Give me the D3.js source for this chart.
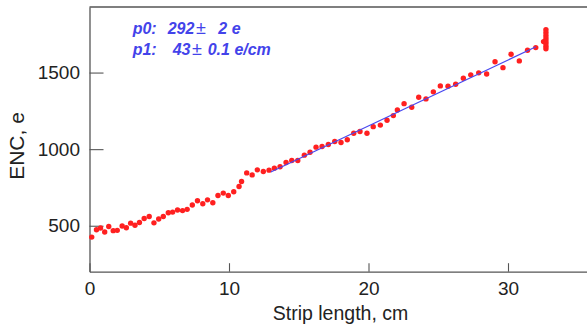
<!DOCTYPE html>
<html>
<head>
<meta charset="utf-8">
<script src="https://cdn.jsdelivr.net/npm/d3@7"></script>
<style>
  html, body { margin: 0; padding: 0; background: #fff; }
  svg { display: block; }
  text { font-family: "Liberation Sans", Arial, sans-serif; }
</style>
</head>
<body>
<svg id="chart" width="587" height="327"></svg>
<script>
// ---- data ----
const stripLength = [
  0.16, 0.50, 0.79, 1.09, 1.38, 1.70, 1.99, 2.34, 2.64, 2.95,
  3.26, 3.58, 3.92, 4.28, 4.62, 4.96, 5.29, 5.65, 5.96, 6.31,
  6.67, 7.00, 7.37, 7.74, 8.12, 8.46, 8.84, 9.21, 9.59, 9.95,
  10.34, 10.72, 10.90, 11.27, 11.66, 12.03, 12.46, 12.87, 13.25, 13.66,
  14.09, 14.50, 14.93, 15.40, 15.81, 16.24, 16.67, 17.12, 17.58, 18.03,
  18.48, 18.94, 19.39, 19.89, 20.34, 20.85, 21.33, 21.78, 22.07, 22.55,
  23.10, 23.60, 24.12, 24.65, 25.15, 25.70, 26.25, 26.80, 27.33, 27.90,
  28.47, 29.07, 29.64, 30.22, 30.81, 31.40, 31.99, 32.55,
  32.72, 32.72, 32.72, 32.72, 32.72, 32.72, 32.72, 32.72
];
const enc = [
  426, 474, 485, 459, 495, 468, 470, 498, 487, 517,
  503, 521, 547, 560, 519, 544, 560, 585, 589, 603,
  599, 607, 635, 663, 644, 669, 650, 697, 713, 697,
  722, 756, 789, 845, 832, 865, 854, 863, 876, 885,
  913, 926, 926, 961, 980, 1013, 1017, 1030, 1050, 1043,
  1061, 1104, 1115, 1104, 1147, 1157, 1189, 1219, 1256, 1297,
  1274, 1339, 1328, 1374, 1413, 1411, 1424, 1463, 1485, 1498,
  1491, 1571, 1532, 1620, 1576, 1646, 1663, 1702,
  1655, 1672, 1690, 1706, 1722, 1740, 1760, 1780
];
const xMajorTicks = [0, 10, 20, 30];
const xMinorTicks = [2, 4, 6, 8, 12, 14, 16, 18, 22, 24, 26, 28, 32, 34];
const yMajorTicks = [500, 1000, 1500];
const yMinorTicks = [300, 400, 600, 700, 800, 900, 1100, 1200, 1300, 1400, 1600, 1700, 1800, 1900];
// linear fit: ENC = p0 + p1 * L, over the fitted range
const fitP0 = 292, fitP1 = 43;
const fitRange = [13, 32];
const fitLines = [
  ["p0:", "292", "\u00b1", "2 e"],
  ["p1:", "43", "\u00b1", "0.1 e/cm"]
];

// ---- layout ----
const svg = d3.select("#chart");
const x = d3.scaleLinear().domain([0, 36]).range([89.5, 591.7]);
const y = d3.scaleLinear().domain([200, 1928]).range([271.7, 7]);
const axisColor = "#555";

// top frame
svg.append("line")
  .attr("x1", 89.5).attr("x2", 587).attr("y1", 7).attr("y2", 7)
  .attr("stroke", axisColor).attr("stroke-width", 1.3);

// x axis
const gx = svg.append("g").attr("transform", `translate(0,${y.range()[0]})`);
gx.call(d3.axisBottom(x).tickValues(xMinorTicks).tickSizeInner(-4.3).tickSizeOuter(0).tickFormat(""));
gx.call(d3.axisBottom(x).tickValues(xMajorTicks).tickSizeInner(-8.5).tickSizeOuter(0).tickPadding(10).tickFormat(d3.format("d")));

// y axis
const gy = svg.append("g").attr("transform", `translate(${x.range()[0]},0)`);
gy.call(d3.axisLeft(y).tickValues(yMinorTicks).tickSizeInner(-7.7).tickSizeOuter(0).tickFormat(""));
gy.call(d3.axisLeft(y).tickValues(yMajorTicks).tickSizeInner(-14).tickSizeOuter(0).tickPadding(9.5).tickFormat(d3.format("d")));

svg.selectAll(".domain").attr("stroke", axisColor).attr("stroke-width", 1.3);
svg.selectAll(".tick line").attr("stroke", axisColor).attr("stroke-width", 1.1);
svg.selectAll(".tick text")
  .attr("font-family", "'Liberation Sans', Arial, sans-serif")
  .attr("font-size", 19).attr("fill", "#222");
gx.selectAll(".tick text").attr("dy", "0.71em");

// axis titles
svg.append("text")
  .attr("x", 340.5).attr("y", 320)
  .attr("text-anchor", "middle")
  .attr("font-size", 19.5).attr("fill", "#222")
  .text("Strip length, cm");
svg.append("text")
  .attr("transform", "translate(24,146) rotate(-90)")
  .attr("text-anchor", "middle")
  .attr("font-size", 21).attr("fill", "#222")
  .text("ENC, e");

// data points
const pts = stripLength.map((L, i) => ({ L, e: enc[i] }));
svg.append("g").selectAll("circle")
  .data(pts)
  .join("circle")
  .attr("cx", d => x(d.L))
  .attr("cy", d => y(d.e))
  .attr("r", 2.7)
  .attr("fill", "#ff2020");

// fit line (drawn over the points)
svg.append("path")
  .datum(fitRange)
  .attr("fill", "none")
  .attr("stroke", "#4848f0")
  .attr("stroke-width", 1.2)
  .attr("d", d3.line().x(d => x(d)).y(d => y(fitP0 + fitP1 * d)));

// fit result text
const segX = [[132.7, 167.7, 196, 218.3], [132.7, 172.7, 192, 207.7]];
const baseY = [34, 55];
fitLines.forEach((segs, li) => {
  const t = svg.append("text")
    .attr("y", baseY[li])
    .attr("font-size", 16)
    .attr("font-style", "italic")
    .attr("font-weight", "bold")
    .attr("fill", "#4343ea");
  segs.forEach((s, si) => {
    const sp = t.append("tspan").attr("x", segX[li][si]).text(s);
    if (s === "\u00b1") sp.attr("font-weight", "normal").attr("font-style", "normal").attr("font-size", 18);
  });
});
</script>
</body>
</html>
